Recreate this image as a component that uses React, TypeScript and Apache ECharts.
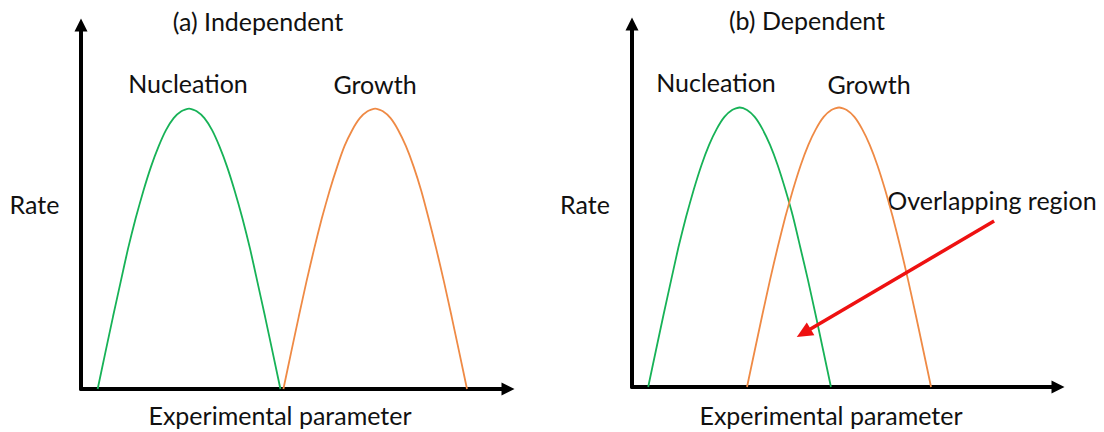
import React, { useEffect, useRef } from "react";
import * as echarts from "echarts";

// x positions (experimental parameter, 0-100 along each axis)
const nucleationA_X = [3.9, 5.7, 7.5, 9.3, 11.0, 12.8, 14.6, 16.4, 18.2, 19.9, 21.7, 23.5, 25.3, 27.1, 28.9, 30.7, 32.4, 34.2, 36.0, 37.8, 39.6, 41.3, 43.1, 44.9, 46.7];
const growthA_X = [47.4, 49.2, 51.0, 52.8, 54.6, 56.4, 58.2, 60.0, 61.7, 63.5, 65.3, 67.1, 68.9, 70.7, 72.5, 74.3, 76.1, 77.9, 79.7, 81.4, 83.2, 85.0, 86.8, 88.6, 90.4];
const nucleationB_X = [3.8, 5.6, 7.4, 9.2, 10.9, 12.7, 14.5, 16.3, 18.1, 19.9, 21.7, 23.5, 25.3, 27.0, 28.8, 30.6, 32.4, 34.2, 36.0, 37.8, 39.5, 41.3, 43.1, 44.9, 46.7];
const growthB_X = [27.0, 28.8, 30.6, 32.4, 34.2, 36.0, 37.8, 39.6, 41.4, 43.2, 45.0, 46.8, 48.6, 50.4, 52.2, 54.0, 55.8, 57.6, 59.4, 61.2, 63.0, 64.8, 66.6, 68.4, 70.2];
// rate values (0-100 along the vertical axis)
const nucleationA_Rate = [0, 10.0, 19.9, 29.5, 38.5, 46.9, 54.4, 61.1, 66.7, 71.1, 74.4, 76.3, 77, 76.3, 74.4, 71.1, 66.7, 61.1, 54.4, 46.9, 38.5, 29.5, 19.9, 10.0, 0];
const growthA_Rate = [0, 10.0, 19.9, 29.5, 38.5, 46.9, 54.4, 61.1, 66.7, 71.1, 74.4, 76.3, 77, 76.3, 74.4, 71.1, 66.7, 61.1, 54.4, 46.9, 38.5, 29.5, 19.9, 10.0, 0];
const nucleationB_Rate = [0, 10.0, 19.9, 29.5, 38.5, 46.9, 54.4, 61.1, 66.7, 71.1, 74.4, 76.3, 77, 76.3, 74.4, 71.1, 66.7, 61.1, 54.4, 46.9, 38.5, 29.5, 19.9, 10.0, 0];
const growthB_Rate = [0, 10.0, 19.9, 29.5, 38.5, 46.9, 54.4, 61.1, 66.7, 71.1, 74.4, 76.3, 77, 76.3, 74.4, 71.1, 66.7, 61.1, 54.4, 46.9, 38.5, 29.5, 19.9, 10.0, 0];

const overlapArrowFrom = [85.0, 45.7];
const overlapArrowTo = [40.3, 14.9];

const panelTitles = ["(a) Independent", "(b) Dependent"];
const curveNames = ["Nucleation", "Growth"];
const yAxisName = "Rate";
const xAxisName = "Experimental parameter";
const overlapLabel = "Overlapping region";

const GREEN = "#17b257";
const ORANGE = "#ef8a45";
const TEXT = "#111111";
const FONT = "Lato, 'Open Sans', sans-serif";

const zip = (xs: number[], ys: number[]) => xs.map((x, i) => [x, ys[i]]);

export default function App() {
  const ref = useRef<HTMLDivElement>(null);
  useEffect(() => {
    if (!ref.current) return;
    const chart = echarts.init(ref.current, null, { renderer: "svg" });
    const axisLine = {
      show: true,
      symbol: ["none", "triangle"],
      symbolSize: [13, 13],
      lineStyle: { color: "#000", width: 4 },
    };
    const valueAxis = (gridIndex: number) => ({
      type: "value",
      gridIndex,
      min: 0,
      max: 100,
      axisLine,
      axisTick: { show: false },
      axisLabel: { show: false },
      splitLine: { show: false },
    });
    const txt = (text: string, x: number, y: number) => ({
      type: "text",
      x,
      y,
      silent: true,
      style: {
        text,
        fill: TEXT,
        font: `25px ${FONT}`,
        textAlign: "center",
        textVerticalAlign: "middle",
      },
    });
    const curve = (name: string, idx: number, xs: number[], ys: number[], color: string, extra: any = {}) => ({
      name,
      type: "line",
      xAxisIndex: idx,
      yAxisIndex: idx,
      data: zip(xs, ys),
      smooth: 0.2,
      showSymbol: false,
      symbol: "none",
      lineStyle: { color, width: 1.8 },
      itemStyle: { color },
      ...extra,
    });
    chart.setOption({
      animation: false,
      backgroundColor: "#ffffff",
      grid: [
        { left: 81, top: 25, width: 427, height: 364 },
        { left: 632, top: 24, width: 426, height: 363 },
      ],
      xAxis: [valueAxis(0), valueAxis(1)],
      yAxis: [valueAxis(0), valueAxis(1)],
      series: [
        curve(curveNames[0], 0, nucleationA_X, nucleationA_Rate, GREEN),
        curve(curveNames[1], 0, growthA_X, growthA_Rate, ORANGE),
        curve(curveNames[0], 1, nucleationB_X, nucleationB_Rate, GREEN),
        curve(curveNames[1], 1, growthB_X, growthB_Rate, ORANGE, {
          markLine: {
            silent: true,
            symbol: ["none", "triangle"],
            symbolSize: [15, 16],
            label: { show: false },
            lineStyle: { color: "#ee1111", width: 3.5, type: "solid" },
            data: [[{ coord: overlapArrowFrom }, { coord: overlapArrowTo }]],
          },
        }),
      ],
      graphic: [
        txt(panelTitles[0], 258, 21),
        txt(panelTitles[1], 807, 20),
        txt(curveNames[0], 188, 83),
        txt(curveNames[1], 375, 84),
        txt(curveNames[0], 716, 82),
        txt(curveNames[1], 869, 84),
        txt(yAxisName, 34.5, 204),
        txt(yAxisName, 585, 204),
        txt(xAxisName, 280, 415),
        txt(xAxisName, 831, 415),
        txt(overlapLabel, 992, 200),
      ],
    });
    return () => chart.dispose();
  }, []);
  return (
    <div
      ref={ref}
      style={{ position: "fixed", left: 0, top: 0, width: 1104, height: 432, background: "#fff" }}
    />
  );
}
